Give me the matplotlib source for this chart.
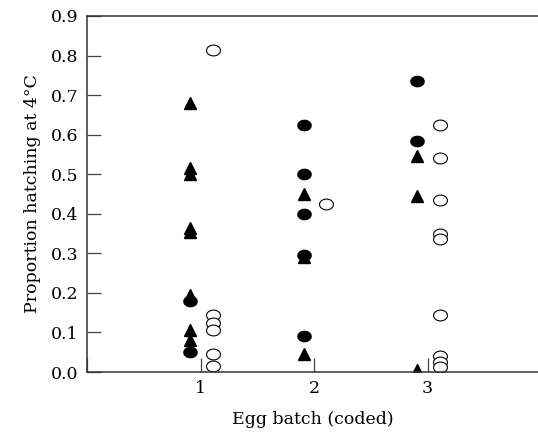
import numpy as np
import matplotlib
matplotlib.use('Agg')
import matplotlib.pyplot as plt
from matplotlib.path import Path

# values
batch = [1, 2, 3]
filled_circles = [
    [0.05, 0.18],
    [0.625, 0.50, 0.40, 0.297, 0.09],
    [0.735, 0.585],
]
triangles = [
    [0.68, 0.515, 0.50, 0.365, 0.355, 0.195, 0.105, 0.08],
    [0.45, 0.29, 0.045],
    [0.545, 0.445, 0.005],
]
open_circles = [
    [0.815, 0.145, 0.125, 0.105, 0.045, 0.015],
    [0.425],
    [0.625, 0.54, 0.435, 0.35, 0.335, 0.145, 0.04, 0.025, 0.012],
]

plt.rcParams['font.family'] = ['DejaVu Serif']

# slightly flattened circle, like the original print
t = np.linspace(0, 2 * np.pi, 60)
ellipse = Path(np.column_stack([np.cos(t), 0.78 * np.sin(t)]))

fig = plt.figure(figsize=(5.38, 4.36), dpi=100)
ax = fig.add_axes([87 / 538, 64 / 436, 451 / 538, 356 / 436])

for i, b in enumerate(batch):
    ax.plot([b - 0.09] * len(filled_circles[i]), filled_circles[i], ls='none',
            marker=ellipse, markersize=9.5, color='black')
    ax.plot([b - 0.09] * len(triangles[i]), triangles[i], ls='none',
            marker='^', markersize=8.5, color='black')
    ax.plot([b + 0.11] * len(open_circles[i]), open_circles[i], ls='none',
            marker=ellipse, markersize=10, markerfacecolor='white',
            markeredgecolor='black', markeredgewidth=0.8)

ax.set_xlim(0, 451 / 113.5)
ax.set_ylim(0, 0.9)
ax.set_xticks([0, 1, 2, 3])
ax.set_xticklabels(['', '1', '2', '3'])
ax.set_yticks(np.arange(0, 0.91, 0.1))
ax.set_yticklabels([f'{v:.1f}' for v in np.arange(0, 0.91, 0.1)])
ax.tick_params(direction='in', length=10, width=0.9, labelsize=12.5, pad=6,
               color='#444444')
ax.spines['right'].set_visible(False)
for s in ['left', 'top', 'bottom']:
    ax.spines[s].set_linewidth(1.1)
    ax.spines[s].set_color('#333333')

ax.set_xlabel('Egg batch (coded)', fontsize=12.5, labelpad=10)
ax.set_ylabel('Proportion hatching at 4°C', fontsize=12.5, labelpad=7)

fig.savefig('out.png', dpi=100)
